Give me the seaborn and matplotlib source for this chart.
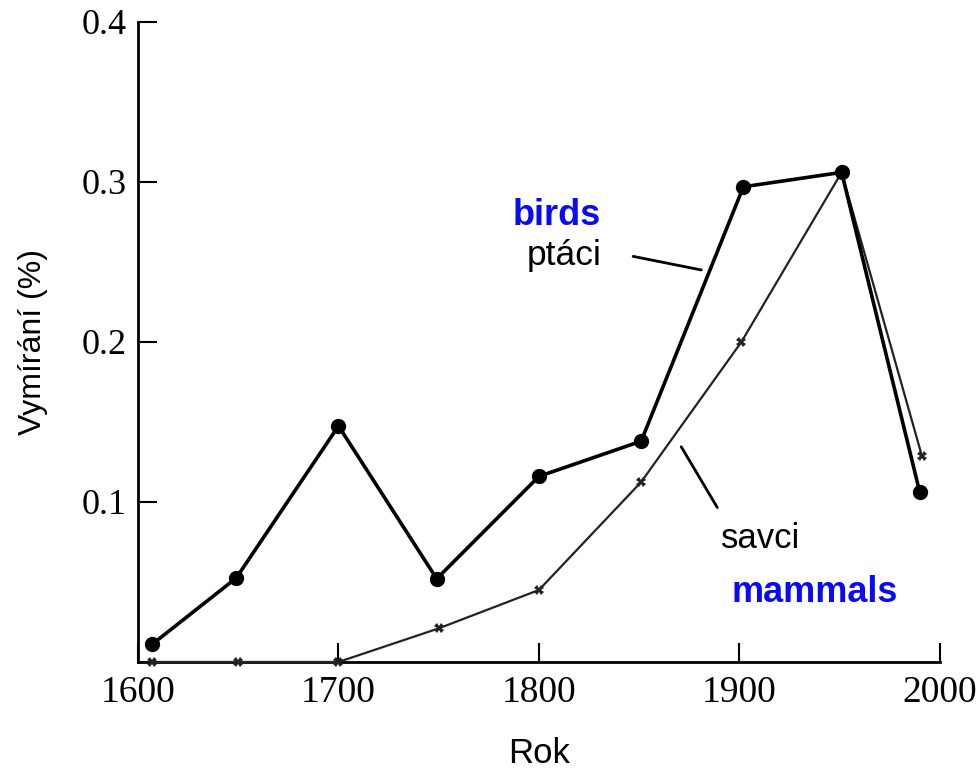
import numpy as np
import pandas as pd
import matplotlib.pyplot as plt
import seaborn as sns

# values
years_birds = [1607, 1649, 1700, 1749, 1800, 1851, 1902, 1951, 1990]
birds = [0.011, 0.0525, 0.1475, 0.052, 0.116, 0.138, 0.297, 0.306, 0.106]

years_mammals = [1607, 1650, 1700, 1750, 1800, 1851, 1901, 1951, 1991]
mammals = [0.0, 0.0, 0.0, 0.021, 0.045, 0.1125, 0.200, 0.306, 0.129]

x_ticks = [1600, 1700, 1800, 1900, 2000]
y_ticks = [0.1, 0.2, 0.3, 0.4]

df_birds = pd.DataFrame({'rok': years_birds, 'value': birds})
df_mammals = pd.DataFrame({'rok': years_mammals, 'value': mammals})

sns.set_style('ticks')
plt.rcParams['font.family'] = ['Liberation Sans', 'DejaVu Sans']
plt.rcParams['text.color'] = 'black'
plt.rcParams['axes.labelcolor'] = 'black'
plt.rcParams['xtick.color'] = 'black'
plt.rcParams['ytick.color'] = 'black'

fig = plt.figure(figsize=(9.79, 7.71), dpi=100)
ax = fig.add_axes([0.141, 0.1414, 0.819, 0.8301])

sns.lineplot(x='rok', y='value', data=df_mammals, ax=ax, color='#222222',
             linewidth=1.6, marker='X', markersize=7, markeredgewidth=0,
             clip_on=False, zorder=3)
sns.lineplot(x='rok', y='value', data=df_birds, ax=ax, color='black',
             linewidth=2.6, marker='o', markersize=11, markeredgewidth=0,
             clip_on=False, zorder=4)

ax.set_xlim(1600, 2000)
ax.set_ylim(0, 0.4)
ax.set_xticks(x_ticks)
ax.set_yticks(y_ticks)
ax.set_xticklabels([str(t) for t in x_ticks], family='Liberation Serif', fontsize=27)
ax.set_yticklabels([f'{t:.1f}' for t in y_ticks], family='Liberation Serif', fontsize=26)
ax.tick_params(axis='x', direction='in', length=14, width=1.5, pad=10)
ax.tick_params(axis='y', direction='in', length=14, width=1.5, pad=8)

for side in ['top', 'right']:
    ax.spines[side].set_visible(False)
for side in ['left', 'bottom']:
    ax.spines[side].set_linewidth(2)
    ax.spines[side].set_color('black')

ax.set_xlabel('Rok', fontsize=25, labelpad=19)
ax.set_ylabel('Vymírání (%)', fontsize=23, labelpad=24)

# labels and pointer lines
ax.text(1809, 0.273, 'birds', color='#0a0af5', fontsize=26, fontweight='bold',
        ha='center', va='baseline')
ax.text(1812.5, 0.248, 'ptáci', fontsize=25.5, ha='center', va='baseline')
ax.plot([1847, 1881], [0.2535, 0.245], color='black', linewidth=2)
ax.text(1910.5, 0.071, 'savci', fontsize=25, ha='center', va='baseline')
ax.text(1937.5, 0.0375, 'mammals', color='#0a0af5', fontsize=26, fontweight='bold',
        ha='center', va='baseline')
ax.plot([1871, 1889], [0.1345, 0.0965], color='black', linewidth=2)

fig.savefig('out.png', dpi=100)
